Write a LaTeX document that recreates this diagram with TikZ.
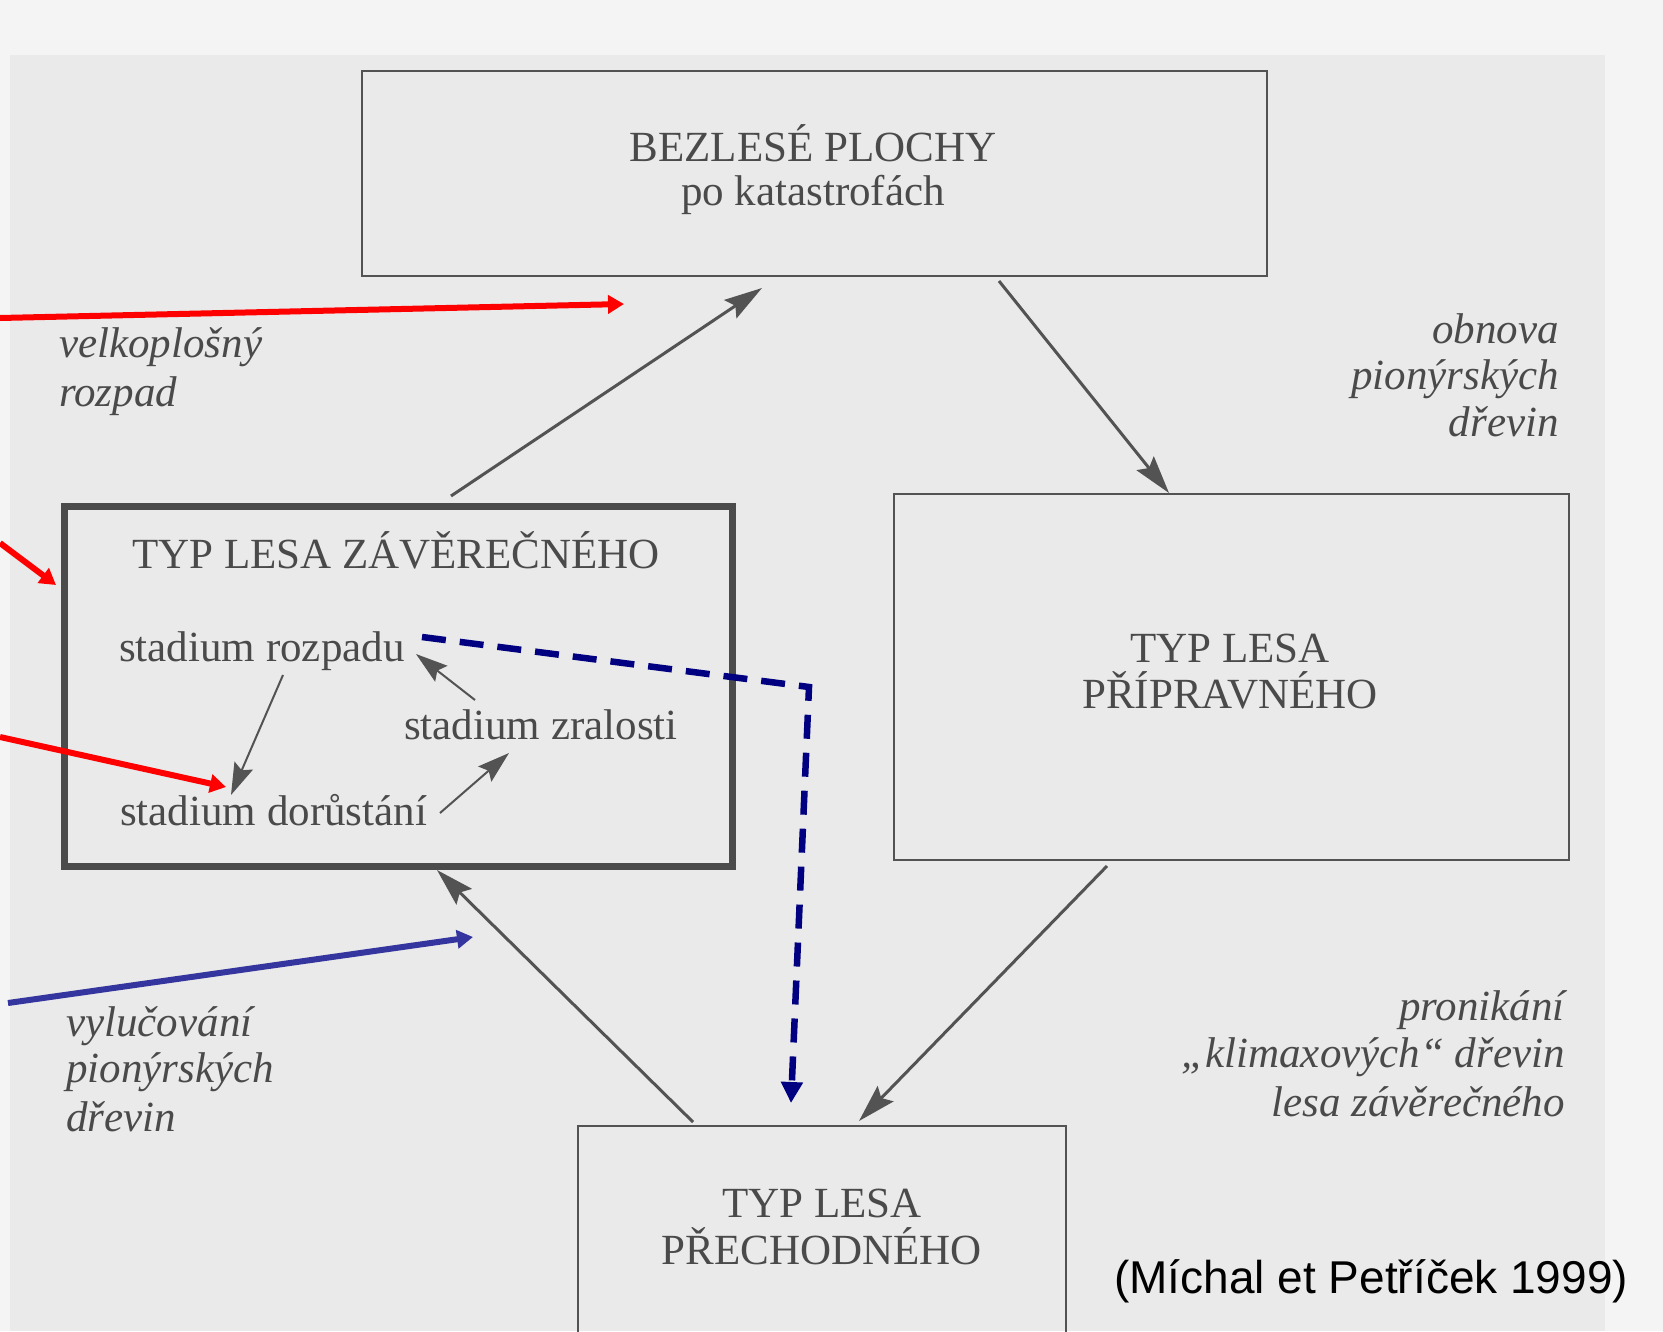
\documentclass[tikz,border=0pt]{standalone}
\usepackage{fontspec}
\setmainfont{Liberation Serif}
\newfontfamily\arialf{Liberation Sans}
\usetikzlibrary{arrows.meta}
\definecolor{ink}{HTML}{4A4A4A}
\definecolor{lineink}{HTML}{535353}
\definecolor{paper}{HTML}{EAEAEA}
\definecolor{paperlight}{HTML}{F4F4F4}
\definecolor{redarrow}{HTML}{FF0000}
\definecolor{bluearrow}{HTML}{3535A0}
\definecolor{navyarrow}{HTML}{000080}
\begin{document}
\begin{tikzpicture}[x=1pt,y=-1pt,
  box/.style={draw=lineink,line width=2.5pt,inner sep=0pt},
  thickbox/.style={draw=lineink!90!black,line width=7pt,inner sep=0pt},
  txt/.style={inner sep=0pt,text=ink,font=\fontsize{43}{48}\selectfont},
  itxt/.style={inner sep=0pt,text=ink,font=\fontsize{43}{48}\selectfont\itshape},
  bigarrow/.style={draw=lineink,line width=3pt,-{Stealth[length=38pt,width=22pt,inset=6pt]}},
  smallarrow/.style={draw=lineink,line width=2pt,-{Stealth[length=32pt,width=20pt,inset=5pt]}},
  redarr/.style={draw=redarrow,line width=6pt,-{Triangle[length=16pt,width=18pt]}},
  bluearr/.style={draw=bluearrow,line width=6pt,-{Triangle[length=16pt,width=18pt]}},
  dasharr/.style={draw=navyarrow,line width=6.5pt,dash pattern=on 24pt off 14pt,-{Triangle[length=21pt,width=21pt]}}
]
\useasboundingbox (0,0) rectangle (1663,1331);
\fill[paperlight] (0,0) rectangle (1663,1331);
\fill[paper] (10,55) rectangle (1605,1331);

% boxes
\node[box,minimum width=905pt,minimum height=205pt] (bez) at (814.5,173.5) {};
\node[thickbox,minimum width=668pt,minimum height=360pt] (zav) at (398,686) {};
\node[box,minimum width=675pt,minimum height=366pt] (pri) at (1231.5,677) {};
\node[box,minimum width=488pt,minimum height=214pt] (pre) at (822,1233) {};

% box texts
\node[txt,anchor=base] (bez1) at (813,161) {BEZLESÉ PLOCHY};
\node[txt,anchor=base] (bez2) at (813,205) {po katastrofách};
\node[txt,anchor=base] (zavt) at (396,568) {TYP LESA ZÁVĚREČNÉHO};
\node[txt,anchor=base west] (roz) at (119,661) {stadium rozpadu};
\node[txt,anchor=base west] (zra) at (404,739) {stadium zralosti};
\node[txt,anchor=base west] (dor) at (120,825) {stadium dorůstání};
\node[txt,anchor=base] (pri1) at (1230,662) {TYP LESA};
\node[txt,anchor=base] (pri2) at (1230,708) {PŘÍPRAVNÉHO};
\node[txt,anchor=base] (pre1) at (822,1217) {TYP LESA};
\node[txt,anchor=base] (pre2) at (822,1264) {PŘECHODNÉHO};

% italic labels
\node[itxt,anchor=base west] (vel1) at (59,357) {velkoplošný};
\node[itxt,anchor=base west] (vel2) at (59,406) {rozpad};
\node[itxt,anchor=base east] (obn1) at (1559,343) {obnova};
\node[itxt,anchor=base east] (obn2) at (1559,389) {pionýrských};
\node[itxt,anchor=base east] (obn3) at (1559,436) {dřevin};
\node[itxt,anchor=base west] (vyl1) at (66,1036) {vylučování};
\node[itxt,anchor=base west] (vyl2) at (66,1082) {pionýrských};
\node[itxt,anchor=base west] (vyl3) at (66,1131) {dřevin};
\node[itxt,anchor=base east] (pro1) at (1565,1020) {pronikání};
\node[itxt,anchor=base east] (pro2) at (1565,1067) {„klimaxových“ dřevin};
\node[itxt,anchor=base east] (pro3) at (1565,1116) {lesa závěrečného};

% citation
\node[inner sep=0pt,anchor=base west,font=\arialf\fontsize{46}{50}\selectfont] (cit) at (1114,1293) {(Míchal et Petříček 1999)};

% connector end points
\coordinate (a1s) at (451,496); \coordinate (a1e) at (762,288);
\coordinate (a2s) at (999,281); \coordinate (a2e) at (1169,493);
\coordinate (a3s) at (1107,866); \coordinate (a3e) at (859,1121);
\coordinate (a4s) at (693,1122); \coordinate (a4e) at (437,870);
\coordinate (i1s) at (283,675); \coordinate (i1e) at (231,795);
\coordinate (i2s) at (475,700); \coordinate (i2e) at (416,654);
\coordinate (i3s) at (440,813); \coordinate (i3e) at (509,753);
\coordinate (r1s) at (0,318); \coordinate (r1e) at (624,304);
\coordinate (r2s) at (0,543); \coordinate (r2e) at (56,585);
\coordinate (r3s) at (0,737); \coordinate (r3e) at (226,787);
\coordinate (b1s) at (8,1003); \coordinate (b1e) at (473,937);
\coordinate (d1s) at (422,637); \coordinate (d1m) at (809,687); \coordinate (d1e) at (791,1103);

% main cycle arrows
\draw[bigarrow] (a1s) -- (a1e);
\draw[bigarrow] (a2s) -- (a2e);
\draw[bigarrow] (a3s) -- (a3e);
\draw[bigarrow] (a4s) -- (a4e);
% inner arrows
\draw[smallarrow] (i1s) -- (i1e);
\draw[smallarrow] (i2s) -- (i2e);
\draw[smallarrow] (i3s) -- (i3e);
% coloured arrows
\draw[redarr] (r1s) -- (r1e);
\draw[redarr] (r2s) -- (r2e);
\draw[redarr] (r3s) -- (r3e);
\draw[bluearr] (b1s) -- (b1e);
\draw[dasharr] (d1s) -- (d1m) -- (d1e);
\end{tikzpicture}
\end{document}
